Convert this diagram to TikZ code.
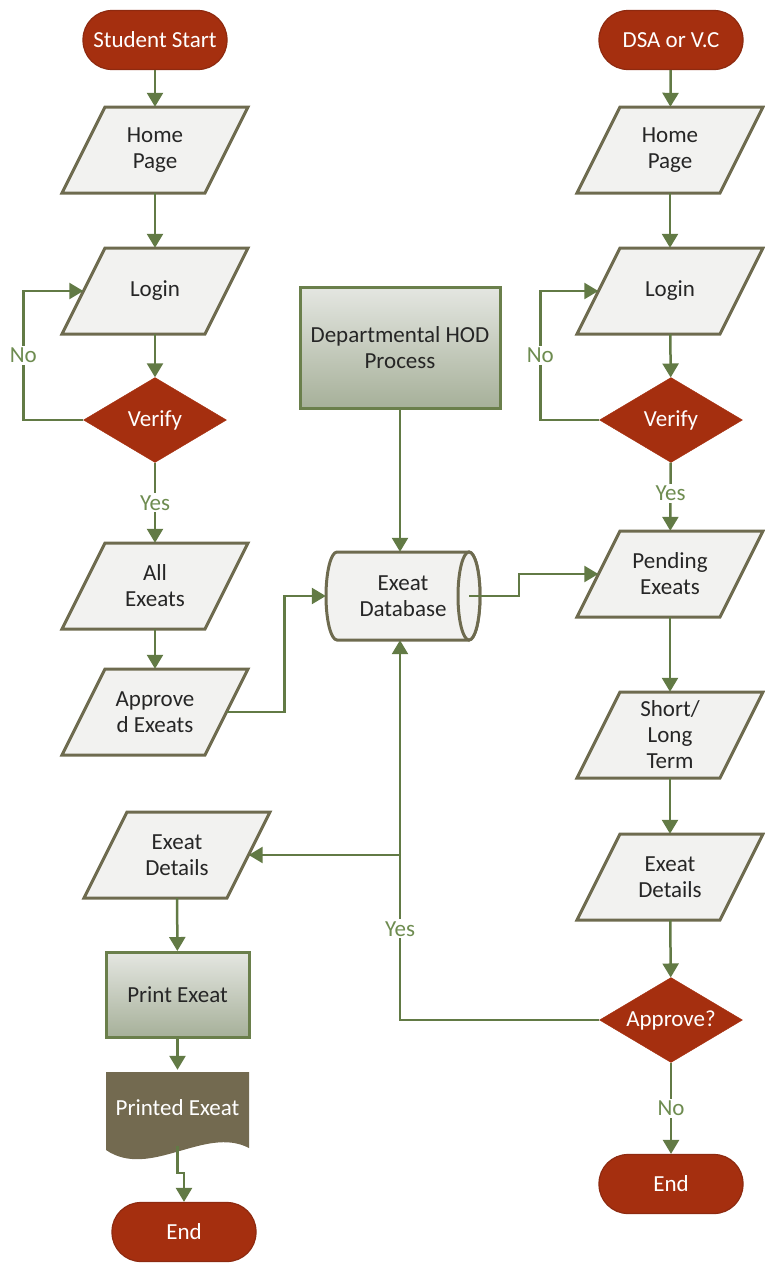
\documentclass[tikz,border=0pt]{standalone}
\usepackage{fontspec}
\setmainfont{Carlito}
\usetikzlibrary{shapes.geometric,arrows.meta,calc}
\definecolor{termred}{HTML}{A52F0F}
\definecolor{termedge}{HTML}{8E2A10}
\definecolor{iofill}{HTML}{F2F2F0}
\definecolor{ioedge}{HTML}{6E6B4F}
\definecolor{flowgreen}{HTML}{627A45}
\definecolor{lblgreen}{HTML}{6E8C50}
\definecolor{textdark}{HTML}{262626}
\definecolor{procTop}{HTML}{E4E6E1}
\definecolor{procBot}{HTML}{A6B099}
\definecolor{procEdge}{HTML}{6A7F4B}
\definecolor{docfill}{HTML}{736A50}
% data (parallelogram) box: outline drawn first, then a named text node
% whose west/east anchors sit on the middle of the slanted sides
\newcommand\ionode[3]{%
  \path[iooutline, shift={#2}] (-93,43) -- (50,43) -- (93,-43) -- (-50,-43) -- cycle;
  \node[iotext] (#1) at #2 {#3};}
\begin{document}
\begin{tikzpicture}[x=1pt,y=-1pt,
  font=\fontsize{23}{26}\selectfont,
  term/.style={rectangle, rounded corners=29pt, fill=termred, draw=termedge,
    line width=1.2pt, minimum width=144pt, minimum height=59pt, inner sep=0pt, text=white},
  iooutline/.style={fill=iofill, draw=ioedge, line width=3pt},
  iotext/.style={rectangle, minimum width=143pt, minimum height=86pt, inner sep=0pt,
    text=textdark, align=center},
  dec/.style={diamond, aspect=1.68, fill=termred, draw=termred, minimum width=143pt,
    minimum height=85pt, inner sep=0pt, text=white},
  proc/.style={rectangle, top color=procTop, bottom color=procBot, draw=procEdge,
    line width=3pt, align=center, text=textdark},
  flow/.style={draw=flowgreen, line width=2.5pt, -{Triangle[width=16pt,length=14pt]}},
  lbl/.style={fill=white, text=lblgreen, inner sep=2pt},
  dbshape/.style={fill=iofill, draw=ioedge, line width=3pt}
]
\useasboundingbox (0,0) rectangle (764,1264);

% ---------- student side ----------
\node[term] (sstart) at (155,40) {Student Start};
\ionode{shome}{(155,150)}{Home\\Page}
\ionode{slogin}{(155,291)}{Login}
\node[dec] (sverify) at (155,420) {Verify};
\ionode{sall}{(155,586)}{All\\Exeats}
\ionode{sappr}{(155,712)}{Approve\\d Exeats}

% ---------- DSA / V.C side ----------
\node[term] (vstart) at (671,40) {DSA or V.C};
\ionode{vhome}{(670,150)}{Home\\Page}
\ionode{vlogin}{(670,291)}{Login}
\node[dec] (vverify) at (671,420) {Verify};
\ionode{vpend}{(670,574)}{Pending\\Exeats}
\ionode{vterm}{(670,735)}{Short/\\Long\\Term}
\ionode{vdet}{(670,877)}{Exeat\\Details}
\node[dec] (vapprove) at (671,1020) {Approve?};
\node[term] (vend) at (671,1184) {End};

% ---------- HOD process and database ----------
\node[proc, minimum width=200pt, minimum height=121pt] (hod) at (400,348)
  {Departmental HOD\\Process};
\draw[dbshape] (337,552) -- (469,552)
  arc[start angle=270, end angle=450, x radius=11, y radius=44]
  -- (337,640) arc[start angle=90, end angle=270, x radius=11, y radius=44] -- cycle;
\draw[dbshape] (469,596) ellipse [x radius=11, y radius=44];
\node[rectangle, minimum width=154pt, minimum height=88pt, inner sep=0pt,
  align=center, text=textdark] (db) at (403,596) {Exeat\\Database};
\coordinate (dbout) at ($(db.east)+(-11,0)$);

% ---------- printing branch ----------
\ionode{ldet}{(177,855)}{Exeat\\Details}
\node[proc, minimum width=143pt, minimum height=85pt] (print) at (177.5,995) {Print Exeat};
\fill[docfill] (106,1072) -- (249,1072) -- (249,1148)
  .. controls (205,1125) and (150,1180) .. (106,1150) -- cycle;
\node[rectangle, minimum width=143pt, minimum height=76pt, inner sep=0pt,
  text=white] (printed) at (177.5,1108) {Printed Exeat};
\node[term] (lend) at (184,1232) {End};

% ---------- connectors: student side ----------
\draw[flow] (sstart) -- (shome);
\draw[flow] (shome) -- (slogin);
\draw[flow] (slogin) -- (sverify);
\draw[flow] (sverify.west) -- ++(-60,0) |- node[lbl, pos=0.25] {No} (slogin.west);
\draw[flow] (sverify) -- node[lbl] {Yes} (sall);
\draw[flow] (sall) -- (sappr);
\draw[flow] (sappr.east) -- ++(58,0) |- (db.west);

% ---------- connectors: DSA / V.C side ----------
\draw[flow] (vstart) -- (vhome);
\draw[flow] (vhome) -- (vlogin);
\draw[flow] (vlogin) -- (vverify);
\draw[flow] (vverify.west) -- ++(-59,0) |- node[lbl, pos=0.25] {No} (vlogin.west);
\draw[flow] (vverify) -- node[lbl, pos=0.45] {Yes} (vpend);
\draw[flow] (vpend) -- (vterm);
\draw[flow] (vterm) -- (vdet);
\draw[flow] (vdet) -- (vapprove);
\draw[flow] (vapprove) -- node[lbl] {No} (vend);

% ---------- connectors: database ----------
\draw[flow] (hod) -- (hod.south |- db.north);
\draw[flow] (dbout) -- ++(50,0) |- (vpend.west);
\draw[flow] (vapprove.west) -| node[lbl, pos=0.62] {Yes} (hod.south |- db.south);
\coordinate (split) at (hod.south |- ldet.east);
\draw[flow] (split) -- (ldet.east);

% ---------- connectors: printing ----------
\draw[flow] (ldet) -- (print);
\draw[flow] (print) -- (printed);
\draw[flow] (printed.south) -- ++(0,27) -| (lend.north);
\end{tikzpicture}
\end{document}
